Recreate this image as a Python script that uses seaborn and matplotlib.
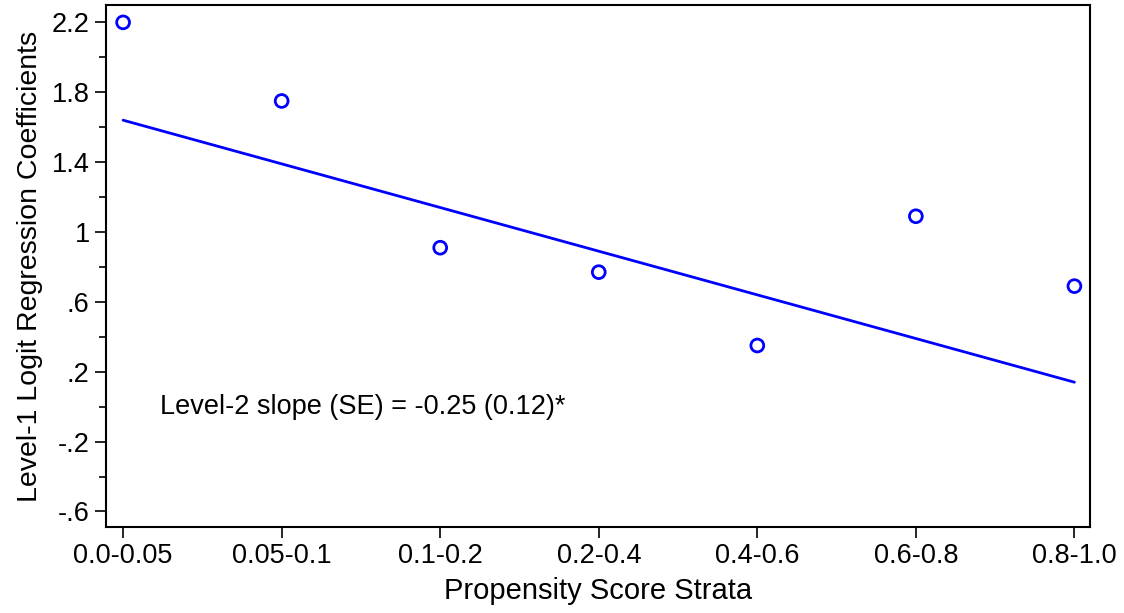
import matplotlib
matplotlib.use("Agg")
import matplotlib.pyplot as plt
import numpy as np
import pandas as pd
import seaborn as sns
from matplotlib.ticker import MultipleLocator

strata = ["0.0-0.05", "0.05-0.1", "0.1-0.2", "0.2-0.4", "0.4-0.6", "0.6-0.8", "0.8-1.0"]
coefficients = [2.20, 1.75, 0.91, 0.77, 0.35, 1.09, 0.69]
fit_intercept = 1.64
fit_slope = -0.25
y_ticks = [-0.6, -0.2, 0.2, 0.6, 1.0, 1.4, 1.8, 2.2]
y_tick_labels = ["-.6", "-.2", ".2", ".6", "1", "1.4", "1.8", "2.2"]

df = pd.DataFrame({"pos": np.arange(len(strata)), "coef": coefficients})
df["fit"] = fit_intercept + fit_slope * df["pos"]

sns.set_style("ticks")
plt.rcParams["font.family"] = ["Liberation Sans", "DejaVu Sans"]
plt.rcParams["text.color"] = "black"
plt.rcParams["axes.labelcolor"] = "black"
plt.rcParams["xtick.color"] = "black"
plt.rcParams["ytick.color"] = "black"

fig, ax = plt.subplots(figsize=(11.24, 6.13), dpi=100)
sns.lineplot(data=df, x="pos", y="fit", color="#0000ff", linewidth=2, ax=ax)
sns.scatterplot(data=df, x="pos", y="coef", marker="o", s=85, facecolor="none",
                edgecolor="#0000ff", linewidth=2, ax=ax, zorder=3)

ax.set_xlim(-0.11, 6.1)
ax.set_ylim(-0.69, 2.30)
ax.set_xticks(df["pos"])
ax.set_xticklabels(strata)
ax.set_yticks(y_ticks)
ax.set_yticklabels(y_tick_labels)
ax.yaxis.set_minor_locator(MultipleLocator(0.2))
ax.tick_params(axis="both", which="major", labelsize=19.5, length=8, width=1.2, colors="black")
ax.tick_params(axis="y", which="minor", length=5, width=1.2, colors="black")
for s in ax.spines.values():
    s.set_visible(True)
    s.set_linewidth(1.5)
    s.set_color("black")

ax.set_xlabel("Propensity Score Strata", fontsize=21, labelpad=6)
ax.set_ylabel("Level-1 Logit Regression Coefficients", fontsize=20.5, labelpad=6)
ax.text(0.23, 0.0, "Level-2 slope (SE) = -0.25 (0.12)*", fontsize=19.5, va="center")

fig.subplots_adjust(left=0.094, right=0.970, top=0.992, bottom=0.140)
fig.savefig("out.png", dpi=100)
plt.close(fig)
